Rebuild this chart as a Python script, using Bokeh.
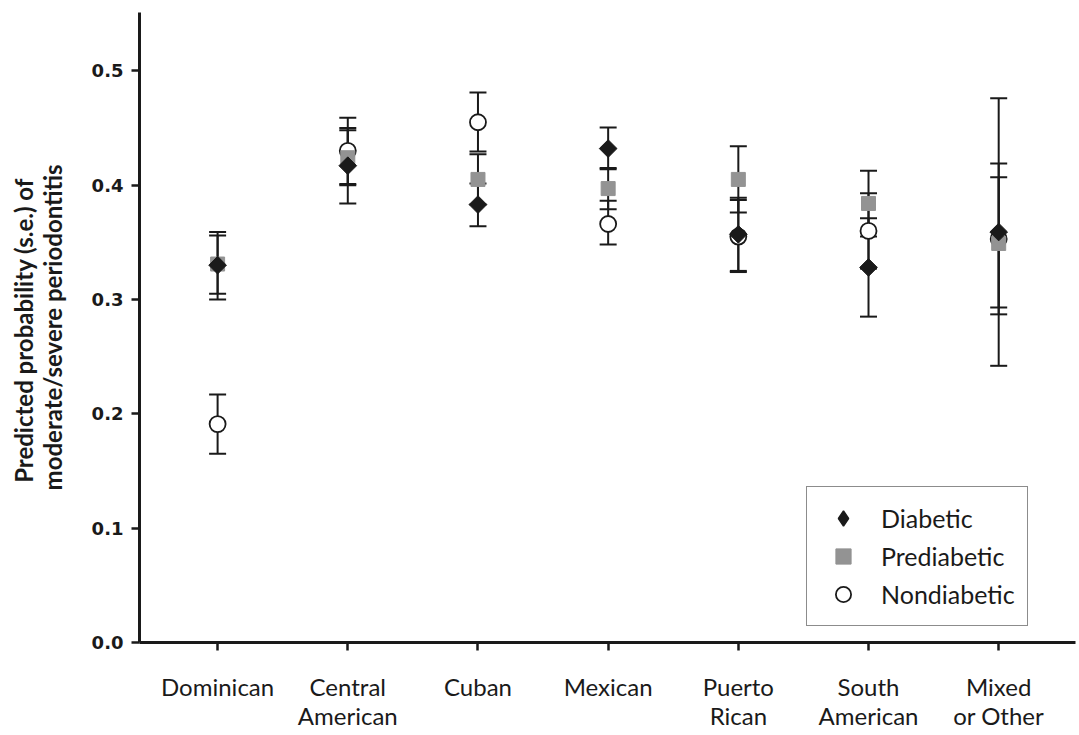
from bokeh.plotting import figure
from bokeh.models import (ColumnDataSource, Whisker, TeeHead, Range1d, FixedTicker,
                          Legend, LegendItem, NumeralTickFormatter)
from bokeh.embed import file_html
from bokeh.resources import INLINE

categories = ["Dominican", "Central\nAmerican", "Cuban", "Mexican", "Puerto\nRican",
              "South\nAmerican", "Mixed\nor Other"]
xs = list(range(len(categories)))

diabetic = [0.330, 0.417, 0.383, 0.432, 0.357, 0.328, 0.359]
diabetic_up = [0.359, 0.450, 0.4015, 0.4505, 0.389, 0.371, 0.476]
diabetic_lo = [0.300, 0.384, 0.364, 0.414, 0.325, 0.285, 0.242]

prediabetic = [0.331, 0.424, 0.405, 0.397, 0.405, 0.384, 0.349]
prediabetic_up = [0.356, 0.448, 0.427, 0.415, 0.434, 0.4126, 0.407]
prediabetic_lo = [0.305, 0.400, 0.383, 0.379, 0.376, 0.355, 0.293]

nondiabetic = [0.191, 0.430, 0.455, 0.366, 0.355, 0.360, 0.353]
nondiabetic_up = [0.217, 0.459, 0.481, 0.3864, 0.387, 0.393, 0.419]
nondiabetic_lo = [0.165, 0.401, 0.4295, 0.348, 0.324, 0.327, 0.287]

y_ticks = [0.0, 0.1, 0.2, 0.3, 0.4, 0.5]

INK = "#1a1a1a"

p = figure(width=1079, height=735, output_backend="svg", toolbar_location=None,
           x_range=Range1d(-0.6, 6.59), y_range=Range1d(0, 0.551),
           min_border_left=139, min_border_right=4, min_border_top=12, min_border_bottom=93)
p.xgrid.visible = False
p.ygrid.visible = False
p.outline_line_color = None
p.background_fill_color = "white"

def add_series(vals, up, lo):
    src = ColumnDataSource(dict(x=xs, y=vals, upper=up, lower=lo))
    w = Whisker(source=src, base="x", upper="upper", lower="lower", dimension="height",
                line_color=INK, line_width=2,
                upper_head=TeeHead(size=17, line_color=INK, line_width=2),
                lower_head=TeeHead(size=17, line_color=INK, line_width=2))
    p.add_layout(w)
    return src

s_non = add_series(nondiabetic, nondiabetic_up, nondiabetic_lo)
s_pre = add_series(prediabetic, prediabetic_up, prediabetic_lo)
s_dia = add_series(diabetic, diabetic_up, diabetic_lo)

r_non = p.scatter("x", "y", source=s_non, marker="circle", size=16,
                  fill_color="white", line_color=INK, line_width=1.8)
r_pre = p.scatter("x", "y", source=s_pre, marker="square", size=14,
                  fill_color="#939393", line_color="#939393", line_width=1)
r_dia = p.scatter("x", "y", source=s_dia, marker="square", size=12.5, angle=0.785398,
                  fill_color=INK, line_color=INK, line_width=1)
# legend-only glyph for the diamond (legend glyphs are not rotated); point lies off-range
r_dia_leg = p.scatter(x=[-10], y=[-10], marker="diamond", size=19,
                      fill_color=INK, line_color=INK, line_width=1.5)

legend = Legend(items=[LegendItem(label="Diabetic", renderers=[r_dia_leg]),
                       LegendItem(label="Prediabetic", renderers=[r_pre]),
                       LegendItem(label="Nondiabetic", renderers=[r_non])],
                location=(667, 16), padding=12, spacing=0, label_height=38,
                glyph_width=48, glyph_height=38, label_standoff=14,
                label_text_font="Lato", label_text_font_size="25px",
                label_text_color=INK,
                border_line_color=INK, border_line_width=1.5,
                background_fill_color="white", background_fill_alpha=1,
                margin=0)
p.add_layout(legend)

for ax in (p.xaxis[0], p.yaxis[0]):
    ax.axis_line_width = 3
    ax.axis_line_color = INK
    ax.major_tick_line_width = 2.5
    ax.major_tick_line_color = INK
    ax.major_tick_out = 8
    ax.major_tick_in = 0
    ax.minor_tick_line_color = None

p.xaxis.ticker = FixedTicker(ticks=xs)
p.xaxis.major_label_overrides = {i: c for i, c in zip(xs, categories)}
p.xaxis.major_label_text_font = "Lato"
p.xaxis.major_label_text_font_size = "24px"
p.xaxis.major_label_text_color = INK
p.xaxis.major_label_text_line_height = 1.0
p.xaxis.major_label_standoff = 21

p.yaxis.ticker = FixedTicker(ticks=y_ticks)
p.yaxis.formatter = NumeralTickFormatter(format="0.0")
p.yaxis.major_label_text_font = "DejaVu Sans"
p.yaxis.major_label_text_font_style = "bold"
p.yaxis.major_label_text_font_size = "18px"
p.yaxis.major_label_text_color = INK
p.yaxis.major_label_standoff = 8
p.yaxis.axis_label = "Predicted  probability (s.e.) of\nmoderate/severe periodontitis"
p.yaxis.axis_label_text_font = "Lato"
p.yaxis.axis_label_text_font_style = "bold"
p.yaxis.axis_label_text_font_size = "24px"
p.yaxis.axis_label_text_color = INK
p.yaxis.axis_label_text_line_height = 1.0
p.yaxis.axis_label_standoff = 22

open("out.html", "w").write(file_html(p, INLINE))
